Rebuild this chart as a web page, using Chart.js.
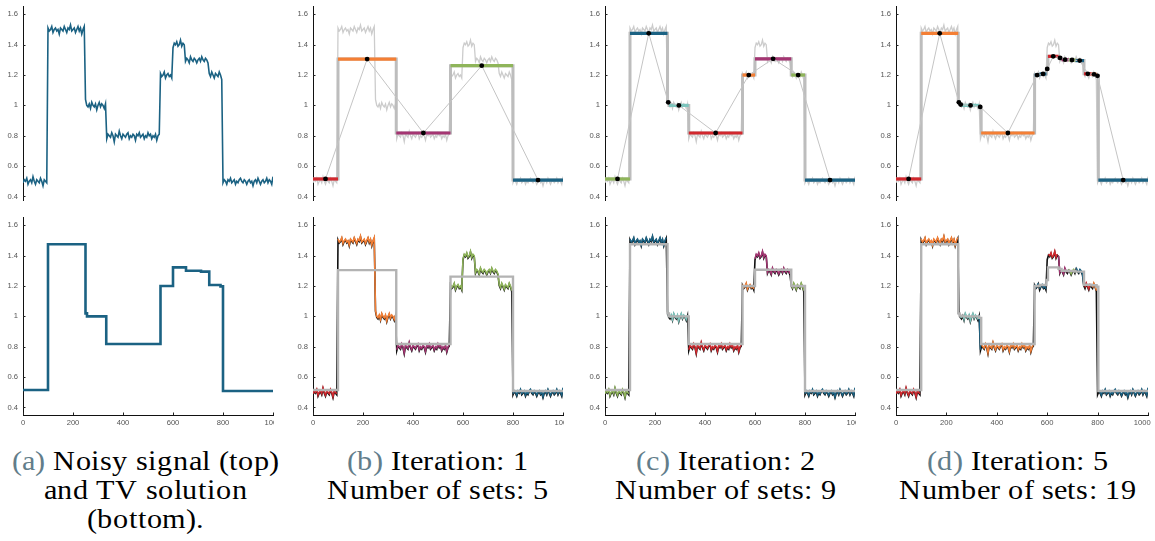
<!DOCTYPE html>
<html>
<head>
<meta charset="utf-8">
<script src="https://cdn.jsdelivr.net/npm/chart.js@4.4.1/dist/chart.umd.min.js"></script>
<style>
  @font-face {
    font-family: "CapSerif";
    src: local("Liberation Serif"), local("LiberationSerif"), local("LiberationSerif-Regular");
  }
  html, body { margin: 0; padding: 0; background: #fff; width: 1155px; height: 541px; overflow: hidden; position: relative; }
  .clip { position: absolute; overflow: hidden; }
  .clip canvas { position: absolute; left: 0; top: 0; }
  .cap { position: absolute; top: 447px; width: 320px; margin-left: -160px; text-align: center;
         font-family: "CapSerif", serif;
         font-size: 27px; line-height: 29px; color: #000; white-space: nowrap; }
  .cap .inner { display: inline-block; transform: scaleX(1.12); transform-origin: center top; }
  .cap .lbl { color: #627d8a; }
</style>
</head>
<body>
<div class="cap" style="left:145px"><div class="inner"><span class="lbl">(a)</span> Noisy signal (top)<br>and TV solution<br>(bottom).</div></div>
<div class="cap" style="left:438px"><div class="inner"><span class="lbl">(b)</span> Iteration: 1<br>Number of sets: 5</div></div>
<div class="cap" style="left:726px"><div class="inner"><span class="lbl">(c)</span> Iteration: 2<br>Number of sets: 9</div></div>
<div class="cap" style="left:1018px"><div class="inner"><span class="lbl">(d)</span> Iteration: 5<br>Number of sets: 19</div></div>

<script>
// noisy samples, one every 5 units on [0, 1000]
const sampleStep = 5;
const noisy = [
  .49,.51,.50,.52,.48,.50,.51,.49,.53,.50,.48,.51,.50,.49,.52,.50,.47,.51,.50,.49,
  1.51,1.49,1.50,1.52,1.48,1.50,1.51,1.49,1.50,1.47,1.51,1.50,1.49,1.52,1.50,1.48,1.51,1.50,1.53,1.49,1.50,1.51,1.48,1.50,1.52,1.49,1.51,1.47,1.50,1.52,
  1.04,1.00,0.99,1.01,0.98,1.02,1.00,0.99,1.01,0.97,1.00,1.02,0.99,1.01,1.00,0.98,1.01,
  0.78,0.81,0.80,0.79,0.82,0.80,0.76,0.81,0.80,0.79,0.83,0.80,0.78,0.81,0.80,0.79,0.81,0.82,0.78,0.80,0.79,0.81,0.80,0.77,0.81,0.80,0.82,0.79,0.80,0.81,0.78,0.80,0.79,0.82,0.80,0.81,0.78,0.80,0.79,0.81,0.77,0.80,0.81,
  1.21,1.19,1.20,1.22,1.18,1.20,1.21,1.19,1.20,1.18,
  1.38,1.41,1.40,1.42,1.39,1.40,1.43,1.39,1.41,1.40,
  1.29,1.31,1.30,1.28,1.32,1.30,1.29,1.31,1.30,1.28,1.30,1.31,1.29,1.32,1.30,1.29,1.31,1.30,1.28,
  1.21,1.19,1.22,1.20,1.18,1.21,1.20,1.19,1.22,1.20,1.17,
  .49,.51,.50,.48,.51,.50,.52,.49,.50,.51,.48,.50,.49,.51,.52,.50,.49,.51,.50,.48,.50,.51,.49,.50,.47,.50,.51,.49,.52,.50,.48,.50,.51,.49,.50,.52,.49,.51,.50,.48,.53
];

// TV solution: piece boundaries and levels
const tvBreaks = [0, 100, 250, 256, 333, 550, 600, 652, 712, 745, 790, 800, 1000];
const tvLevels = [0.515, 1.475, 1.02, 1.0, 0.818, 1.2, 1.323, 1.301, 1.295, 1.207, 1.198, 0.508];

// iteration 1: 5 sets
const iter1Breaks = [0, 100, 333, 550, 800, 1000];
const iter1Levels = [0.515, 1.305, 0.818, 1.262, 0.508];
// iteration 2: 9 sets
const iter2Breaks = [0, 100, 250, 256, 335, 550, 600, 745, 800, 1000];
const iter2Levels = [0.515, 1.475, 1.02, 1.0, 0.818, 1.2, 1.307, 1.2, 0.508];
// iteration 5: 19 sets
const iter5Breaks = [0, 100, 247, 252, 262, 330, 338, 550, 570, 597, 603, 645, 657, 685, 712, 746, 776, 796, 803, 1000];
const iter5Levels = [0.515, 1.475, 1.02, 1.005, 1.0, 0.99, 0.818, 1.2, 1.207, 1.24, 1.323, 1.313, 1.301, 1.299, 1.295, 1.208, 1.205, 1.195, 0.508];

const yTicks = [0.4, 0.6, 0.8, 1.0, 1.2, 1.4, 1.6];
const yTickLabels = ['0.4', '0.6', '0.8', '1', '1.2', '1.4', '1.6'];
const xTicks = [0, 200, 400, 600, 800, 1000];
const xTickLabels = ['0', '200', '400', '600', '800', '1000'];

const C = {
  red: '#d2282e', orange: '#f47f35', magenta: '#a43572',
  green: '#8fb55a', blue: '#1b6283', teal: '#7cc5bd'
};
const iter1Colors = [C.red, C.orange, C.magenta, C.green, C.blue];
const iter2Colors = [C.green, C.blue, C.teal, C.teal, C.red, C.orange, C.magenta, C.green, C.blue];
const iter5Colors = [C.red, C.orange, C.blue, C.teal, C.teal, C.blue, C.orange, C.blue, C.blue, C.teal,
                     C.red, C.magenta, C.magenta, C.green, C.blue, C.red, C.orange, C.magenta, C.blue];

// panel geometry
const plotLeft = [23, 313, 605, 896];
const plotRight = [273, 563, 855, 1148];
const plotTop = [6, 217];
const PLOT_H = 198;
const YW = 30, PR = 26, PT = 10, PB = 10, XH = 22;

const allPts = noisy.map((y, i) => ({ x: i * sampleStep, y }));
const ptsIn = (lo, hi) => allPts.filter(p => p.x >= lo && (hi === 1000 ? p.x <= hi : p.x < hi));
const stepPts = (b, l) => l.map((v, i) => ({ x: b[i], y: v })).concat([{ x: b[b.length - 1], y: l[l.length - 1] }]);
const mids = b => b.slice(0, -1).map((v, i) => (v + b[i + 1]) / 2);

function line(data, color, width, order, extra) {
  return Object.assign({ data, borderColor: color, borderWidth: width, pointRadius: 0, fill: false, order }, extra || {});
}

// black underlay of the noisy line is drawn slightly lower
const shiftLines = {
  id: 'shiftLines',
  beforeDatasetDraw(chart, args) {
    const dy = chart.data.datasets[args.index].shiftY;
    if (dy) { chart.ctx.save(); chart.ctx.translate(0, dy); }
  },
  afterDatasetDraw(chart, args) {
    if (chart.data.datasets[args.index].shiftY) chart.ctx.restore();
  }
};

// short tick marks pointing into the plot
const innerTicks = {
  id: 'innerTicks',
  afterDraw(chart) {
    const { ctx, chartArea: a, scales: { x, y } } = chart;
    ctx.save();
    ctx.strokeStyle = '#222';
    ctx.lineWidth = 1;
    ctx.beginPath();
    y.ticks.forEach(t => {
      const py = Math.round(y.getPixelForValue(t.value)) + 0.5;
      ctx.moveTo(a.left, py); ctx.lineTo(a.left + 2.5, py);
    });
    if (x.options.display) {
      x.ticks.forEach(t => {
        const px = Math.round(x.getPixelForValue(t.value)) + 0.5;
        ctx.moveTo(px, a.bottom); ctx.lineTo(px, a.bottom - 2.5);
      });
    }
    ctx.stroke();
    ctx.restore();
  }
};

const tickFont = { family: 'Liberation Sans', size: 7.6 };

function panel(col, row, datasets) {
  const left = plotLeft[col], right = plotRight[col], top = plotTop[row];
  const boxL = left - YW, boxT = top - PT;
  const w = YW + (right - left) + PR;
  const h = PT + PLOT_H + (row ? XH : PB);
  const clipR = col < 3 ? right + 1 : 1155;
  const clipB = row ? 541 : 201;

  const clip = document.createElement('div');
  clip.className = 'clip';
  clip.style.left = boxL + 'px';
  clip.style.top = boxT + 'px';
  clip.style.width = Math.min(w, clipR - boxL) + 'px';
  clip.style.height = Math.min(h, clipB - boxT) + 'px';
  const cv = document.createElement('canvas');
  cv.width = w; cv.height = h;
  cv.style.width = w + 'px'; cv.style.height = h + 'px';
  clip.appendChild(cv);
  document.body.appendChild(clip);

  const last = xTickLabels.length - 1;
  new Chart(cv.getContext('2d'), {
    type: 'line',
    data: { datasets },
    plugins: [shiftLines, innerTicks],
    options: {
      responsive: false,
      animation: false,
      events: [],
      layout: { padding: { left: 0, top: PT, right: PR, bottom: row ? 0 : PB } },
      plugins: { legend: { display: false }, tooltip: { enabled: false } },
      elements: { line: { tension: 0 } },
      scales: {
        x: {
          type: 'linear', min: 0, max: 1000, display: row === 1,
          afterFit: s => { if (row) s.height = XH; },
          afterBuildTicks: s => { s.ticks = xTicks.map(v => ({ value: v })); },
          grid: { display: false, drawTicks: false },
          border: { display: true, color: '#111', width: 1 },
          ticks: {
            padding: 3, font: tickFont, color: '#555', maxRotation: 0, autoSkip: false,
            callback: (v, i) => (col === 3 && i === last) ? xTickLabels[i] + '\u2002\u2002\u2002' : xTickLabels[i]
          }
        },
        y: {
          type: 'linear', min: 0.35, max: 1.655,
          afterFit: s => { s.width = YW; },
          afterBuildTicks: s => { s.ticks = yTicks.map(v => ({ value: v })); },
          grid: { display: false, drawTicks: false },
          border: { display: true, color: '#111', width: 1 },
          ticks: { padding: 5, font: tickFont, color: '#555', autoSkip: false, callback: (v, i) => yTickLabels[i] }
        }
      }
    }
  });
}

function topIteration(breaks, levels, colors) {
  const ds = [
    line(allPts, '#cccccc', 1.3, 5),
    line(stepPts(breaks, levels), '#bdbdbd', 3, 4, { stepped: true })
  ];
  levels.forEach((v, i) => {
    ds.push(line([{ x: breaks[i], y: v }, { x: breaks[i + 1], y: v }], colors[i], 3.2, 3, { borderCapStyle: 'butt' }));
  });
  ds.push({
    data: mids(breaks).map((x, i) => ({ x, y: levels[i] })),
    showLine: true, borderColor: '#c4c4c4', borderWidth: 1, fill: false,
    pointRadius: 2.4, pointBackgroundColor: '#000', pointBorderWidth: 0, order: 0
  });
  return ds;
}

function bottomIteration(breaks, levels, colors) {
  const ds = [line(allPts, '#111111', 1.6, 5, { shiftY: 1 })];
  levels.forEach((v, i) => {
    ds.push(line(ptsIn(breaks[i], breaks[i + 1]), colors[i], 1.5, 3));
  });
  ds.push(line(stepPts(breaks, levels), '#b3b3b3', 2.4, 1, { stepped: true }));
  return ds;
}

panel(0, 0, [line(allPts, C.blue, 1.6, 1)]);
panel(0, 1, [line(stepPts(tvBreaks, tvLevels), C.blue, 2.6, 1, { stepped: true })]);

panel(1, 0, topIteration(iter1Breaks, iter1Levels, iter1Colors));
panel(1, 1, bottomIteration(iter1Breaks, iter1Levels, iter1Colors));
panel(2, 0, topIteration(iter2Breaks, iter2Levels, iter2Colors));
panel(2, 1, bottomIteration(iter2Breaks, iter2Levels, iter2Colors));
panel(3, 0, topIteration(iter5Breaks, iter5Levels, iter5Colors));
panel(3, 1, bottomIteration(iter5Breaks, iter5Levels, iter5Colors));
</script>
</body>
</html>
